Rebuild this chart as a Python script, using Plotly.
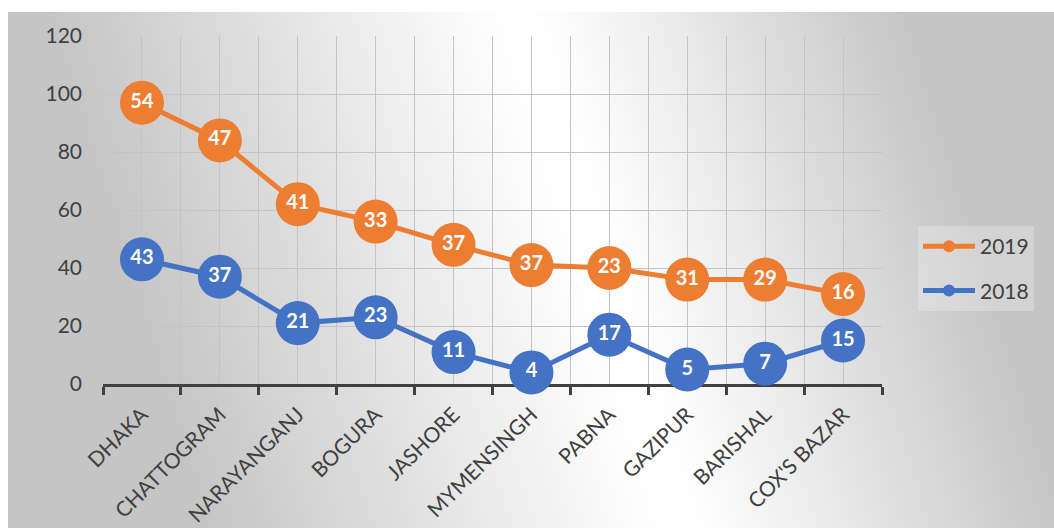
import base64
import struct
import zlib

import numpy as np
import plotly.graph_objects as go

# ---- data -------------------------------------------------------------
districts = ["DHAKA", "CHATTOGRAM", "NARAYANGANJ", "BOGURA", "JASHORE",
             "MYMENSINGH", "PABNA", "GAZIPUR", "BARISHAL", "COX'S BAZAR"]
cases_2018 = [43, 37, 21, 23, 11, 4, 17, 5, 7, 15]
cases_2019 = [54, 47, 41, 33, 37, 37, 23, 31, 29, 16]
y_ticks = [0, 20, 40, 60, 80, 100, 120]

ORANGE = "#ED7D31"
BLUE = "#4472C4"
TEXT = "#404040"
GRID = "#c4c4c4"
FONT = "Lato"

# stacked line: 2019 sits on top of 2018
idx = np.arange(len(districts))
base_2018 = np.array(cases_2018, dtype=float)
top_2019 = base_2018 + np.array(cases_2019, dtype=float)


# ---- soft grey background gradient (light band through the middle) ----
def gray_png(arr):
    h, w = arr.shape
    raw = b"".join(b"\x00" + arr[r].tobytes() for r in range(h))

    def chunk(tag, data):
        c = struct.pack(">I", len(data)) + tag + data
        return c + struct.pack(">I", zlib.crc32(tag + data) & 0xFFFFFFFF)

    png = b"\x89PNG\r\n\x1a\n"
    png += chunk(b"IHDR", struct.pack(">IIBBBBB", w, h, 8, 0, 0, 0, 0))
    png += chunk(b"IDAT", zlib.compress(raw, 9))
    png += chunk(b"IEND", b"")
    return "data:image/png;base64," + base64.b64encode(png).decode()


W_PX, H_PX = 1054, 528
BG_X0, BG_Y0 = 8, 12
scale = 2
gw, gh = (W_PX - BG_X0) // scale, (H_PX - BG_Y0) // scale
X = BG_X0 + np.arange(gw)[None, :] * scale
Y = BG_Y0 + np.arange(gh)[:, None] * scale
centre = 520 + (Y - 12) * (160 / 516)
dx = X - centre
d = np.where(dx > 0, dx / 390.0, -dx / 480.0)
eps = 0.08
d = (np.sqrt(d * d + eps * eps) - eps) / (np.sqrt(1 + eps * eps) - eps)
d = np.clip(d, 0, 1)
g = (255 - 58 * d).astype(np.uint8)
bg_src = gray_png(g)

# plot area in pixels
PL, PR, PT, PB = 103, 882, 36, 384
pw, ph = PR - PL, PB - PT

fig = go.Figure()

fig.add_trace(go.Scatter(
    x=idx, y=top_2019, name="2019", legendgroup="a",
    mode="lines+markers+text",
    line=dict(color=ORANGE, width=5),
    marker=dict(color=ORANGE, size=44),
    text=[str(v) for v in cases_2019], textposition="middle center",
    textfont=dict(family=FONT, size=20, color="white", weight="bold"),
    cliponaxis=False, hoverinfo="skip",
))
fig.add_trace(go.Scatter(
    x=idx, y=base_2018, name="2018", legendgroup="b",
    mode="lines+markers+text",
    line=dict(color=BLUE, width=5),
    marker=dict(color=BLUE, size=44),
    text=[str(v) for v in cases_2018], textposition="middle center",
    textfont=dict(family=FONT, size=20, color="white", weight="bold"),
    cliponaxis=False, hoverinfo="skip",
))

fig.update_layout(
    width=W_PX, height=H_PX, autosize=False,
    margin=dict(l=PL, r=W_PX - PR, t=PT, b=H_PX - PB, pad=0, autoexpand=False),
    paper_bgcolor="white", plot_bgcolor="rgba(0,0,0,0)",
    font=dict(family=FONT, size=20, color=TEXT),
    showlegend=True,
    legend=dict(
        x=(918 - PL) / pw, y=(PB - 226) / ph, xanchor="left", yanchor="top",
        bgcolor="rgba(255,255,255,0.25)", font=dict(size=21, color=TEXT),
        itemsizing="constant", tracegroupgap=14, traceorder="grouped",
        itemwidth=52,
    ),
    images=[dict(
        source=bg_src, xref="paper", yref="paper",
        x=(BG_X0 - PL) / pw, y=(PB - BG_Y0) / ph,
        sizex=(W_PX - BG_X0) / pw, sizey=(H_PX - BG_Y0) / ph,
        xanchor="left", yanchor="top", sizing="stretch", layer="below",
    )],
)

fig.update_xaxes(
    range=[-0.5, len(districts) - 0.5], automargin=False,
    tickmode="array", tickvals=idx, ticktext=districts,
    tickangle=-45, ticks="", ticklabelstandoff=7,
    tickfont=dict(family=FONT, size=21, color=TEXT),
    showgrid=True, gridcolor=GRID, gridwidth=1,
    showline=True, linecolor="#404040", linewidth=3,
    zeroline=False, layer="below traces",
    minor=dict(
        tickmode="array", tickvals=[i - 0.5 for i in range(len(districts) + 1)],
        ticks="outside", ticklen=8, tickwidth=3, tickcolor="#404040",
        showgrid=True, gridcolor=GRID, gridwidth=1,
    ),
)
fig.update_yaxes(
    range=[0, 120], automargin=False, tickmode="array", tickvals=y_ticks,
    tickfont=dict(family=FONT, size=21, color=TEXT),
    ticklabelstandoff=20,
    showgrid=True, gridcolor=GRID, gridwidth=1,
    zeroline=False, showline=False, ticks="",
)

fig.write_html("out.html")
